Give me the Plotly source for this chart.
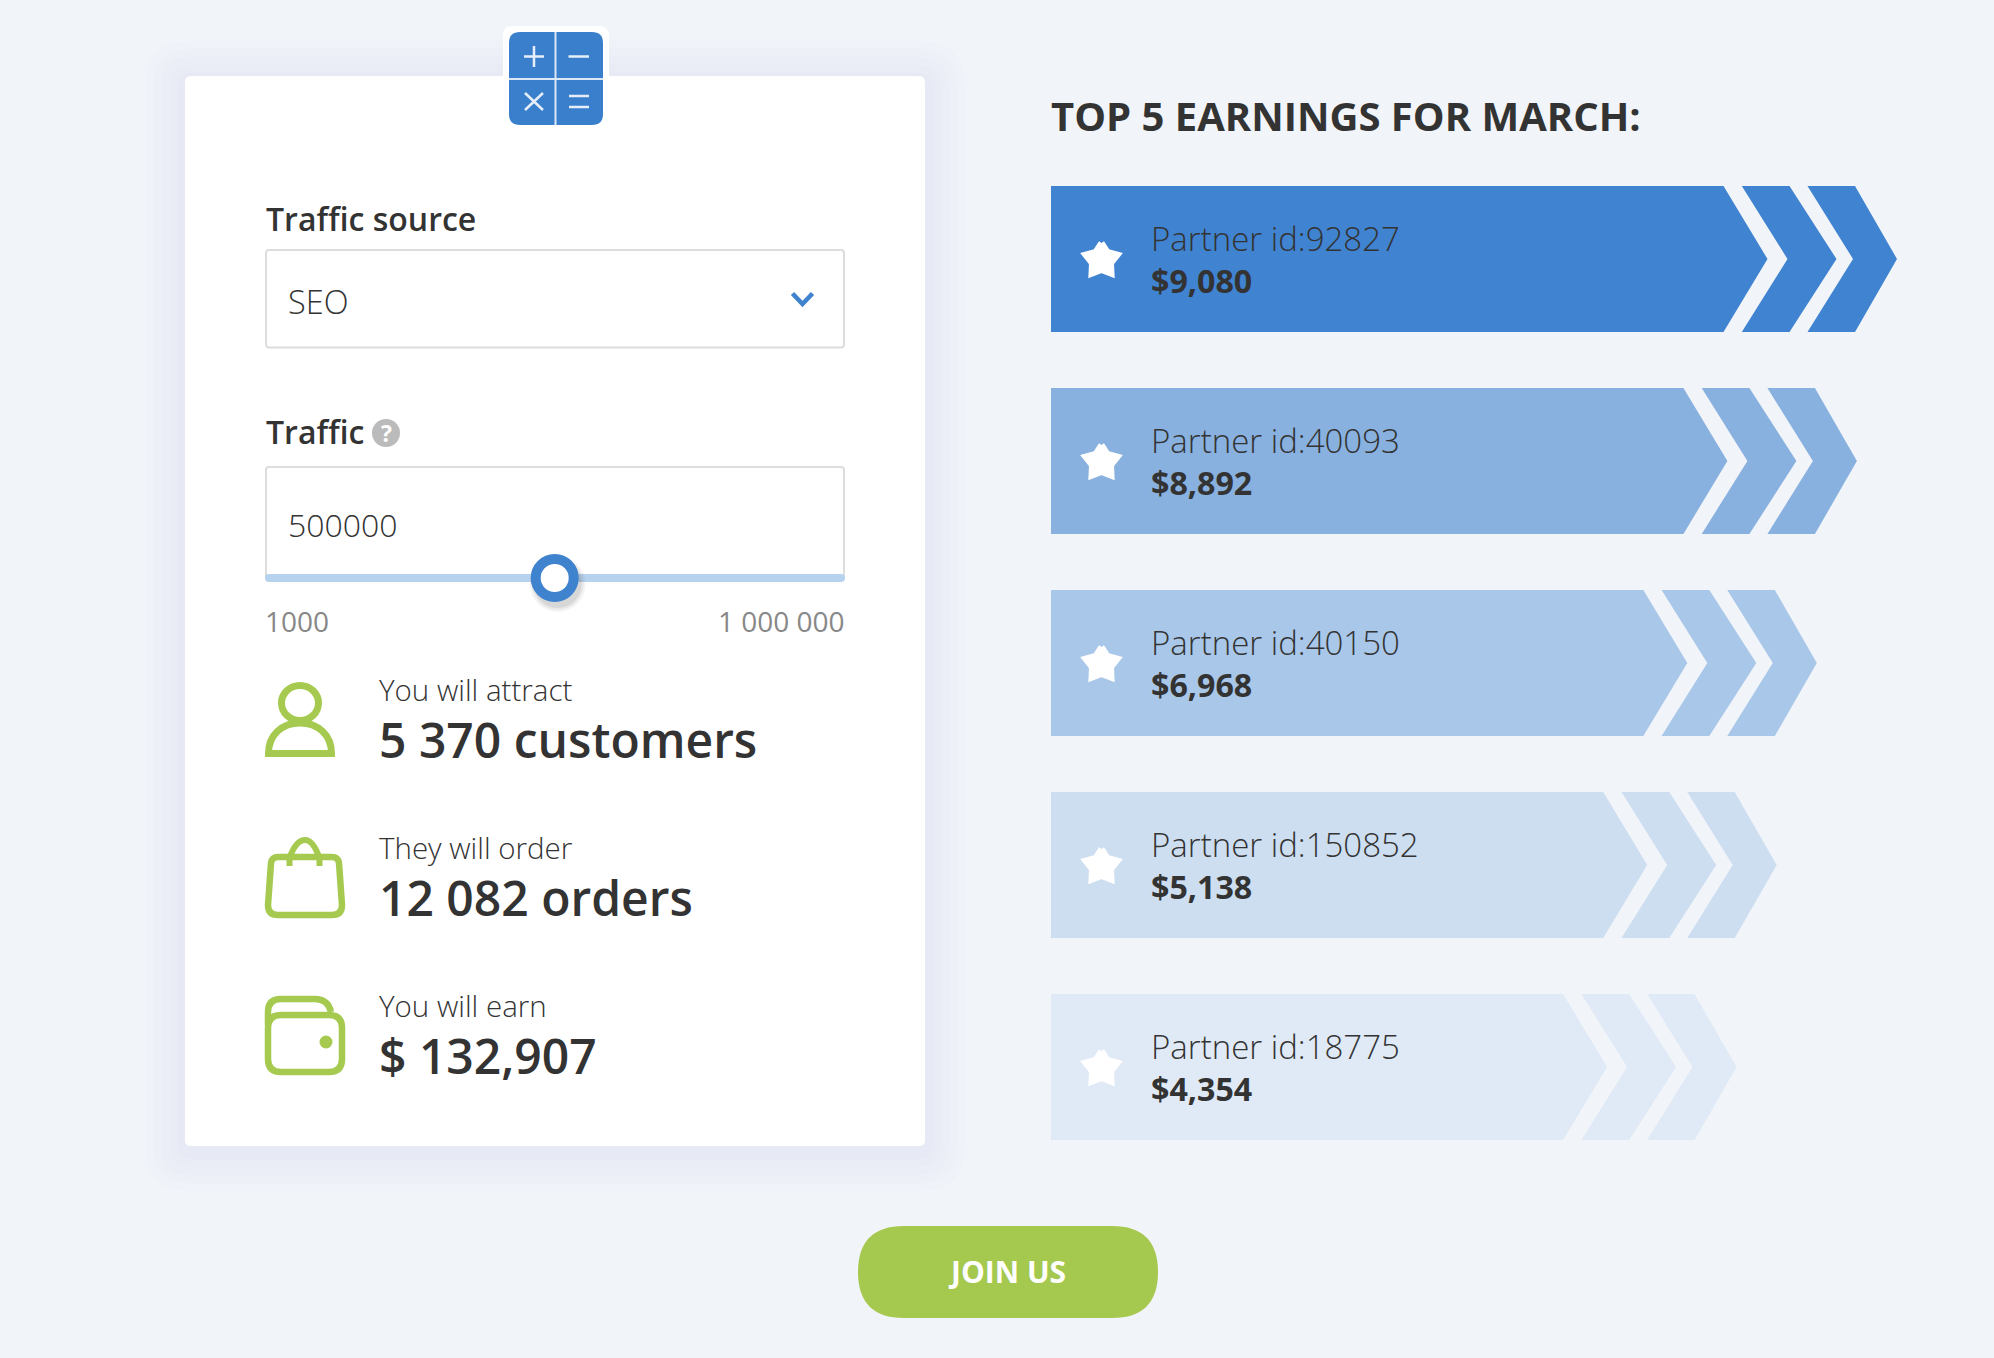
import math

import plotly.graph_objects as go

# Page size
W = 1994
H = 1358

# Data
partner_ids = ['92827', '40093', '40150', '150852', '18775']
earnings = ['$9,080', '$8,892', '$6,968', '$5,138', '$4,354']
bar_colors = ['#4083d0', '#88b1df', '#a8c7e9', '#cddef1', '#e0eaf6']

traffic_value = 500000
traffic_min = 1000
traffic_max = 1000000
traffic_labels = ['1000', '1 000 000']
traffic_source = 'SEO'

result_labels = ['You will attract', 'They will order', 'You will earn']
result_values = ['5 370 customers', '12 082 orders', '$ 132,907']

# Colours
BG = '#f1f4f9'
DARK = '#333333'
BLUE = '#3f82ce'
GREEN = '#a5ca4f'
FONT = 'Open Sans'

shapes = []
annotations = []


def rrect(x0, y0, x1, y1, r):
    return (f'M {x0+r} {y0} L {x1-r} {y0} Q {x1} {y0} {x1} {y0+r} L {x1} {y1-r} Q {x1} {y1} {x1-r} {y1} '
            f'L {x0+r} {y1} Q {x0} {y1} {x0} {y1-r} L {x0} {y0+r} Q {x0} {y0} {x0+r} {y0} Z')


def add_path(path, fill=None, stroke=None, width=0, opacity=1):
    shapes.append(dict(type='path', path=path, xref='x', yref='y', layer='below', opacity=opacity,
                       fillcolor=fill if fill else 'rgba(0,0,0,0)',
                       line=dict(color=stroke if stroke else 'rgba(0,0,0,0)', width=width)))


def add_circle(cx, cy, rx, ry, fill=None, stroke=None, width=0):
    shapes.append(dict(type='circle', x0=cx - rx, x1=cx + rx, y0=cy - ry, y1=cy + ry, xref='x', yref='y',
                       layer='below', fillcolor=fill if fill else 'rgba(0,0,0,0)',
                       line=dict(color=stroke if stroke else 'rgba(0,0,0,0)', width=width)))


def label(x, baseline, text, size, color=DARK, weight=400, anchor='left'):
    # annotations are placed by their middle, so shift up from the baseline
    annotations.append(dict(x=x, y=baseline - 0.375 * size, xref='x', yref='y', text=text, showarrow=False,
                            xanchor=anchor, yanchor='middle', borderpad=0, borderwidth=0,
                            font=dict(family=FONT, size=size, color=color, weight=weight)))


# Card shadow, then card
for i in range(5, 0, -1):
    e = i * 8
    add_path(rrect(185 - e, 76 - e + 5, 925 + e, 1146 + e + 5, 6 + e), fill='#a0aee0', opacity=0.02)
add_path(rrect(185, 76, 925, 1146, 6), fill='white')

# Calculator icon on top of the card
add_path(rrect(503, 26, 609, 100, 10), fill='white')
add_path(rrect(509, 32, 603, 125, 11), fill='#3a7fcc')
add_path('M 555.5 32 L 555.5 125', stroke='#dbe8f6', width=2)
add_path('M 509 79 L 603 79', stroke='#dbe8f6', width=2)
add_path('M 524 56.5 L 544 56.5 M 534 46 L 534 67', stroke='#e6eff9', width=2.5)
add_path('M 568.5 56.5 L 589 56.5', stroke='#e6eff9', width=2.5)
add_path('M 525 93 L 543 110 M 543 93 L 525 110', stroke='#e6eff9', width=2.5)
add_path('M 569 96 L 589 96 M 569 107 L 589 107', stroke='#e6eff9', width=2.5)

# Traffic source select
label(265.5, 230, 'Traffic source', 32, weight=600)
add_path(rrect(266, 250, 844, 347.5, 3), fill='white', stroke='#dddddd', width=2)
label(288, 313.3, traffic_source, 32.5, weight=300)
add_path('M 792.5 293.5 L 802.5 304 L 812.5 293.5', stroke=BLUE, width=4.5)

# Traffic input and slider
label(265.5, 443, 'Traffic', 32, weight=600)
add_circle(386, 433, 14, 14, fill='#bbbbbb')
label(386, 442, '?', 23, color='white', weight=700, anchor='center')
add_path('M 266 578 L 266 470 Q 266 467 269 467 L 841 467 Q 844 467 844 470 L 844 578', stroke='#dddddd', width=2)
label(287.5, 536.3, str(traffic_value), 32, weight=300)
add_path(rrect(265, 574, 845, 582, 4), fill='#b7d2ee')
label(265, 631, traffic_labels[0], 28, color='#888888')
label(845, 631, traffic_labels[1], 28, color='#888888', anchor='right')

# Results
for i in range(3):
    label(379, 700.5 + i * 158, result_labels[i], 29.5, weight=300)
    label(379, 757 + i * 158, result_values[i], 48, weight=600)

# Person icon
add_circle(300, 703, 18.5, 17.5, stroke=GREEN, width=7)
add_path('M 268.5 753.5 C 268.5 735 282 723 300 723 C 318 723 331.5 735 331.5 753.5 Z', stroke=GREEN, width=7)
# Bag icon
add_path('M 278 857 L 332 857 Q 338 857 339 863 L 342 905 Q 342 915 332 915 L 278 915 Q 268 915 268 905 '
         'L 271 863 Q 272 857 278 857 Z', stroke=GREEN, width=6.5)
add_path('M 289.5 866 L 289.5 858 Q 296 840 305 840 Q 313 840 319.5 858 L 319.5 866', stroke=GREEN, width=6)
# Wallet icon
add_path(rrect(268, 1015, 342, 1072, 13), stroke=GREEN, width=6.5)
add_path('M 268 1025 L 268 1012 Q 268 999 281 999 L 315 999 Q 328 999 331 1012', stroke=GREEN, width=6.5)
add_circle(326, 1042, 6.5, 6.5, fill=GREEN)

# Join button
add_path(rrect(858, 1226, 1158, 1318, 46), fill='#a5c94e')
label(1007, 1283, 'JOIN US', 30, color='white', weight=700, anchor='center')

# Right column title
label(1051, 130.5, 'TOP 5 EARNINGS FOR MARCH:', 40, weight=700)

BAR_X = 1051
BAR_TOP = 186
BAR_H = 146
BAR_STEP = 202
BAR_SHRINK = 40.1
BAR_BODY = 1723.5

fig = go.Figure()

# Ranked bars: each one is a body and two chevrons
for rank, (pid, amount, color) in enumerate(zip(partner_ids, earnings, bar_colors)):
    top = BAR_TOP + rank * BAR_STEP
    bot = top + BAR_H
    mid = top + BAR_H / 2
    t = BAR_BODY - rank * BAR_SHRINK
    xs = [BAR_X, t, t + 44, t, BAR_X, BAR_X, None,
          t + 18.3, t + 66, t + 113, t + 66, t + 18.3, t + 64, t + 18.3, None,
          t + 84, t + 131.5, t + 173.5, t + 131.5, t + 84, t + 129.5, t + 84]
    ys = [top, top, mid, bot, bot, top, None,
          top, top, mid, bot, bot, mid, top, None,
          top, top, mid, bot, bot, mid, top]
    fig.add_trace(go.Scatter(x=xs, y=ys, mode='lines', fill='toself', fillcolor=color,
                             line=dict(width=0), hoverinfo='skip'))
    label(1151, top + 64.5, f'Partner id:{pid}', 33, weight=300)
    label(1151, top + 107, amount, 32.2, weight=700)

    # rounded star at the start of the bar
    sx, sy = [], []
    for k in range(11):
        r = 17 if k % 2 == 0 else 10
        a = math.pi * k / 5
        sx.append(1101.5 + r * math.sin(a))
        sy.append(mid + 1 - r * math.cos(a))
    fig.add_trace(go.Scatter(x=sx, y=sy, mode='lines', fill='toself', fillcolor='white',
                             line=dict(color='white', width=6), hoverinfo='skip'))

# Slider thumb sits at the traffic value on the 265-845 track
thumb_x = 265 + (traffic_value - traffic_min) / (traffic_max - traffic_min) * 580
for s, o in [(56, 0.05), (52, 0.07), (48, 0.1)]:
    fig.add_trace(go.Scatter(x=[thumb_x + 3], y=[584], mode='markers', hoverinfo='skip',
                             marker=dict(size=s, color='#444444', opacity=o, line=dict(width=0))))
fig.add_trace(go.Scatter(x=[thumb_x], y=[578], mode='markers', hoverinfo='skip',
                         marker=dict(size=38, color='white', line=dict(color=BLUE, width=10))))

fig.update_layout(width=W, height=H, margin=dict(l=0, r=0, t=0, b=0), showlegend=False,
                  paper_bgcolor=BG, plot_bgcolor=BG, shapes=shapes, annotations=annotations,
                  xaxis=dict(visible=False, range=[0, W], fixedrange=True),
                  yaxis=dict(visible=False, range=[H, 0], fixedrange=True))

# the page body has a default margin that would frame the figure
fig.write_html("out.html", config={'displayModeBar': False},
               post_script="document.body.style.margin='0';document.body.style.overflow='hidden';")
